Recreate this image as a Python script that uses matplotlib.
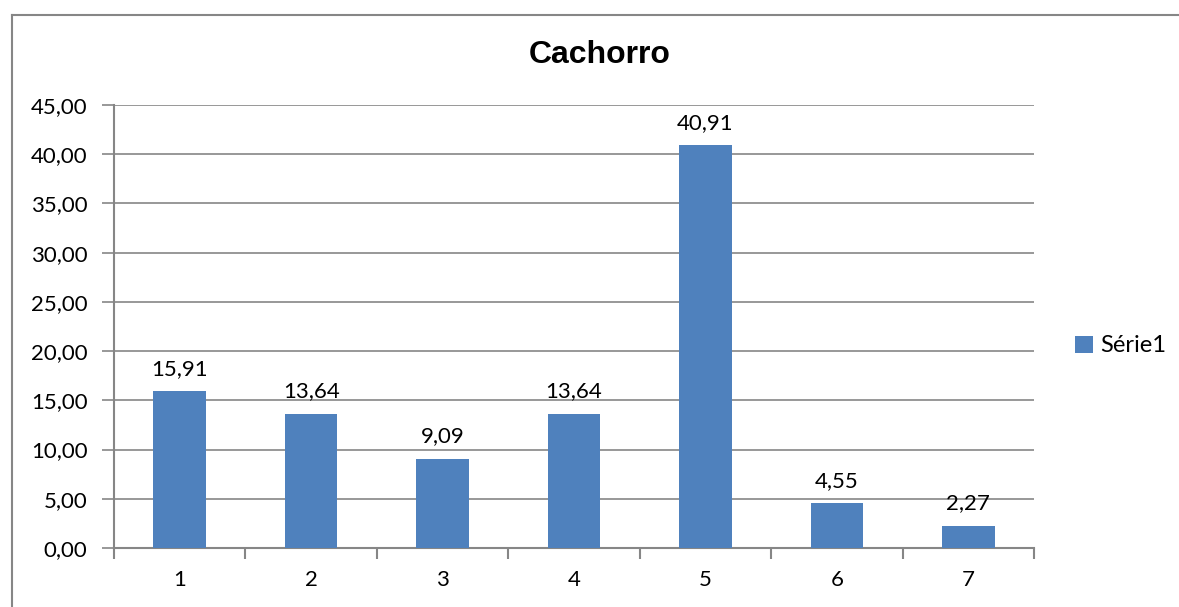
import numpy as np
import matplotlib.pyplot as plt
from matplotlib.lines import Line2D

categories = ['1', '2', '3', '4', '5', '6', '7']
valores = [15.91, 13.64, 9.09, 13.64, 40.91, 4.55, 2.27]
serie = 'Série1'
titulo = 'Cachorro'

W, H = 1179, 607
fig = plt.figure(figsize=(W/100, H/100), dpi=100)
ax = fig.add_axes([114/W, 1-548/H, (1034-114)/W, (548-105)/H])

grey = '#868686'
blue = '#4f81bd'
lab_font = 'Lato'

x = np.arange(len(categories))
bars = ax.bar(x, valores, width=0.4, color=blue, label=serie, zorder=3)
for b, v in zip(bars, valores):
    ax.annotate(f'{v:.2f}'.replace('.', ','), (b.get_x()+b.get_width()/2, v),
                xytext=(0, 9), textcoords='offset points', ha='center', va='bottom',
                fontsize=16, family=lab_font)

ax.set_xlim(-0.5, len(categories)-0.5)
ax.set_ylim(0, 45)
yt = np.arange(0, 46, 5)
ax.set_yticks(yt)
ax.set_yticklabels([f'{t:.2f}'.replace('.', ',') for t in yt], fontsize=16, family=lab_font)
ax.yaxis.grid(True, color=grey, linewidth=1.2, zorder=0)

# category boundary ticks and centred labels
ax.set_xticks(np.arange(-0.5, len(categories), 1))
ax.set_xticklabels([])
ax.set_xticks(x, minor=True)
ax.set_xticklabels(categories, minor=True, fontsize=16, family=lab_font)
ax.tick_params(axis='x', which='major', length=8, width=1.5, color=grey, direction='out')
ax.tick_params(axis='x', which='minor', length=0, pad=16)
ax.tick_params(axis='y', length=9, width=1.2, color=grey, direction='out', pad=10)

for s in ['top', 'right']:
    ax.spines[s].set_visible(False)
for s in ['left', 'bottom']:
    ax.spines[s].set_color(grey)
    ax.spines[s].set_linewidth(1.5)

fig.text(600/W, 1-55/H, titulo, ha='center', va='center', fontsize=23,
         fontweight='bold', family='Liberation Sans')

fig.legend(loc='center left', bbox_to_anchor=(1054/W, 1-346/H), frameon=False,
           prop={'family': lab_font, 'size': 17}, handlelength=0.75, handleheight=0.75,
           handletextpad=0.3)

# outer chart frame (only left and top edges visible)
fig.add_artist(Line2D([11.5/W, 11.5/W], [0, 1-15/H], color=grey, linewidth=1.5))
fig.add_artist(Line2D([11.5/W, 1], [1-15/H, 1-15/H], color=grey, linewidth=1.5))

fig.savefig('out.png', dpi=100)
